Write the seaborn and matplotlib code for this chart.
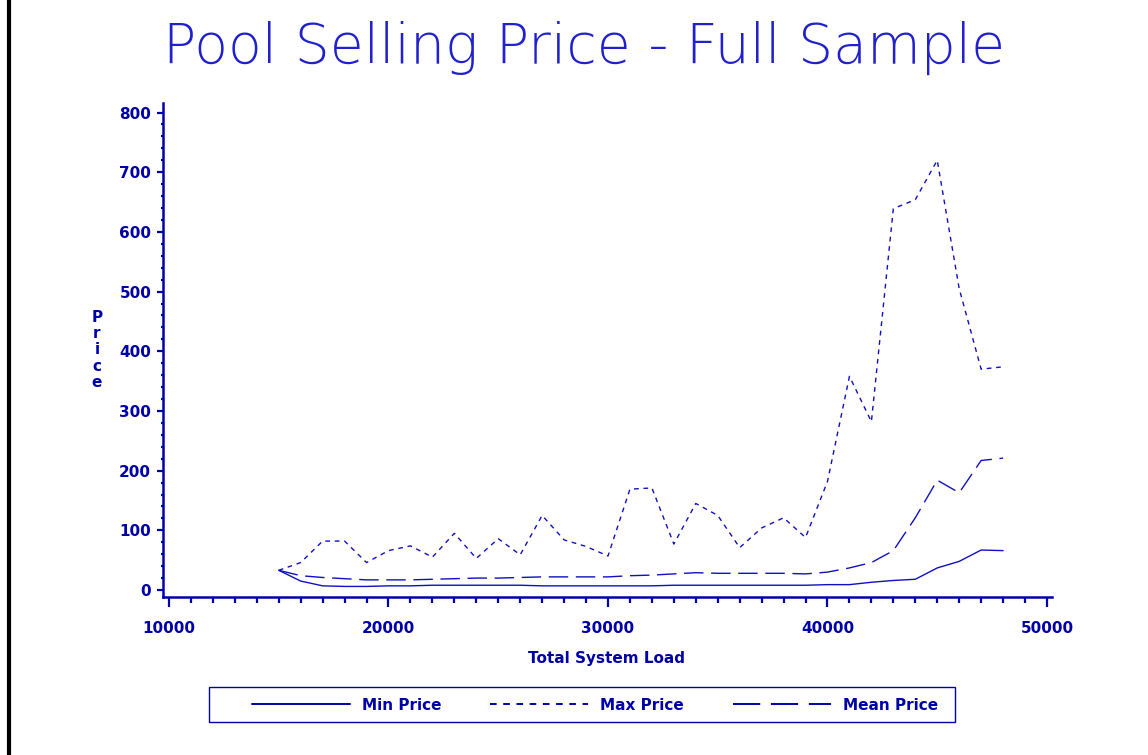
import matplotlib
matplotlib.use("Agg")
import matplotlib.pyplot as plt
from matplotlib.lines import Line2D
from matplotlib.patches import Rectangle
from matplotlib.ticker import MultipleLocator
import numpy as np
import pandas as pd
import seaborn as sns

# data
load = list(range(15000, 49000, 1000))
min_price = [33, 15, 7, 6, 6, 7, 7, 8, 8, 8, 8, 8, 7, 7, 7, 7, 7, 7, 8, 8,
             8, 8, 8, 8, 8, 9, 9, 13, 16, 18, 37, 48, 67, 66]
max_price = [33, 46, 82, 82, 46, 66, 74, 55, 95, 53, 86, 59, 125, 84, 73, 57,
             169, 171, 77, 145, 125, 71, 104, 121, 88, 182, 358, 282, 639, 654,
             720, 505, 370, 374]
mean_price = [33, 24, 21, 19, 17, 17, 17, 18, 19, 20, 20, 21, 22, 22, 22, 22,
              24, 25, 27, 29, 28, 28, 28, 28, 27, 30, 37, 46, 66, 121, 184, 163,
              217, 221]
series_names = ["Min Price", "Max Price", "Mean Price"]

df = pd.DataFrame({"load": load, "Min Price": min_price,
                   "Max Price": max_price, "Mean Price": mean_price})

W, H = 1148, 755
sns.set_theme(style="white")
plt.rcParams["font.family"] = ["DejaVu Sans"]

axis_col = "#0000A8"
line_col = "#1010C0"

fig = plt.figure(figsize=(W / 100, H / 100), dpi=100)
ax = fig.add_axes([163 / W, 1 - 597 / H, (1052 - 163) / W, (597 - 103) / H])

styles = {
    "Min Price": "-",
    "Max Price": (0, (3.4, 3.4)),
    "Mean Price": (0, (14, 5.5)),
}
for name in series_names:
    sns.lineplot(data=df, x="load", y=name, ax=ax, color=line_col, lw=1.0,
                 linestyle=styles[name], errorbar=None)

ax.set_xlim(9727, 50228)
ax.set_ylim(-11.7, 816)
ax.xaxis.set_minor_locator(MultipleLocator(1000))
ax.yaxis.set_minor_locator(MultipleLocator(20))
ax.set_xticks(range(10000, 50001, 10000))
ax.set_yticks(range(0, 801, 100))

for side in ["top", "right"]:
    ax.spines[side].set_visible(False)
for side in ["left", "bottom"]:
    ax.spines[side].set_color(axis_col)
    ax.spines[side].set_linewidth(1.8)

ax.tick_params(axis="x", which="major", length=7, width=1.6, color=axis_col,
               labelcolor=axis_col, labelsize=11, pad=10, direction="out",
               bottom=True)
ax.tick_params(axis="x", which="minor", length=4, width=1.6, color=axis_col,
               direction="out", bottom=True)
ax.tick_params(axis="y", which="major", length=4.5, width=1.6, color=axis_col,
               labelcolor=axis_col, labelsize=11, pad=4, direction="out",
               left=True)
ax.tick_params(axis="y", which="minor", length=1.5, width=1.6, color=axis_col,
               direction="out", left=True)
for lab in ax.get_xticklabels() + ax.get_yticklabels():
    lab.set_fontweight("bold")

ax.set_xlabel("")
ax.set_ylabel("")
fig.text(607 / W, 1 - 659 / H, "Total System Load", ha="center", va="center",
         color=axis_col, fontsize=11, fontweight="bold")
fig.text(97 / W, 1 - 350 / H, "P\nr\ni\nc\ne", ha="center", va="center",
         color=axis_col, fontsize=11, fontweight="bold", linespacing=1.1)

fig.text(584 / W, 1 - 63 / H, "Pool Selling Price - Full Sample",
         ha="center", va="baseline", color="#2020CC", fontsize=39.8,
         fontfamily=["DejaVu Sans"], fontweight=200)

# legend
handles = [Line2D([], [], color=axis_col, lw=1.4, linestyle=styles[n])
           for n in series_names]
fig.legend(handles, series_names, ncol=3, loc="center left",
           bbox_to_anchor=(252 / W, 1 - 705 / H), frameon=False,
           prop={"weight": "bold", "size": 11},
           handlelength=6.4, handletextpad=0.8, columnspacing=3.2,
           borderpad=0, borderaxespad=0, labelcolor=axis_col)
fig.add_artist(Rectangle((209 / W, 1 - 722 / H), (955 - 209) / W, 35 / H,
                         transform=fig.transFigure, fill=False,
                         edgecolor=axis_col, lw=1.0))

# black frame edge on the left
fig.add_artist(Line2D([9 / W, 9 / W], [0, 1], color="black", lw=3,
                      transform=fig.transFigure))

fig.savefig("out.png", dpi=100, facecolor="white")
